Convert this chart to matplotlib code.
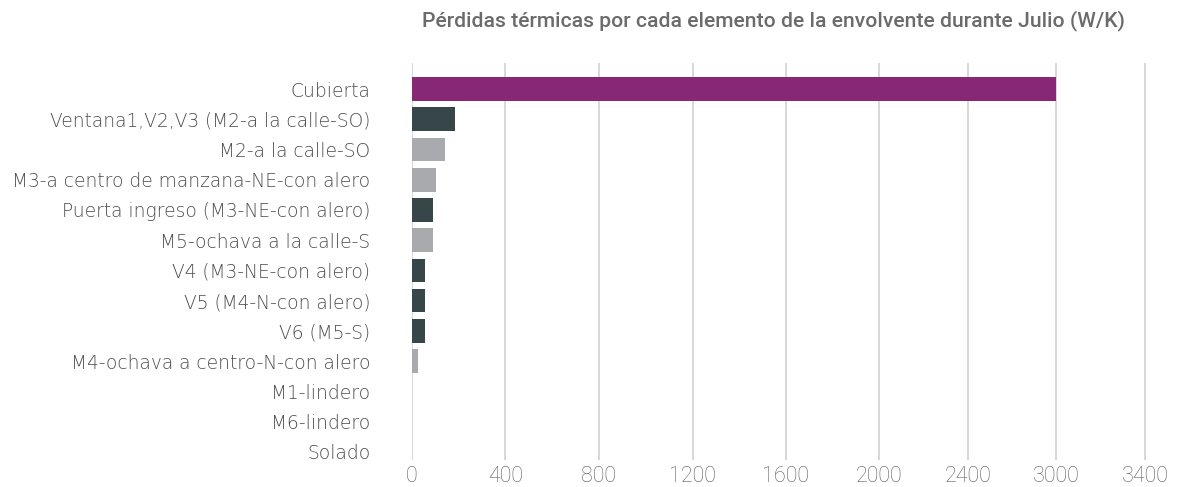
import numpy as np
import matplotlib
matplotlib.use("Agg")
import matplotlib.pyplot as plt
from matplotlib.scale import FuncScale

categories = [
    "Cubierta",
    "Ventana1,V2,V3 (M2-a la calle-SO)",
    "M2-a la calle-SO",
    "M3-a centro de manzana-NE-con alero",
    "Puerta ingreso (M3-NE-con alero)",
    "M5-ochava a la calle-S",
    "V4 (M3-NE-con alero)",
    "V5 (M4-N-con alero)",
    "V6 (M5-S)",
    "M4-ochava a centro-N-con alero",
    "M1-lindero",
    "M6-lindero",
    "Solado",
]
values = [3000, 183, 140, 102, 89, 89, 55, 55, 55, 26, 0, 0, 0]
kinds = ["roof", "window", "wall", "wall", "window", "wall", "window",
         "window", "window", "wall", "wall", "wall", "floor"]
tick_values = [0, 400, 800, 1200, 1600, 2000, 2400, 3000, 3400]
title = "Pérdidas térmicas por cada elemento de la envolvente durante Julio (W/K)"

colors = {"roof": "#862873", "window": "#374649", "wall": "#A8AAAE", "floor": "#A8AAAE"}

# axis in the reference has uneven tick spacing; mimic with a piecewise scale
scale_vals = np.array(tick_values + [4000], dtype=float)
scale_pos = np.array([0, 94, 188.3, 282.7, 376.7, 470.7, 560, 649.3, 738.7, 962.2])

def fwd(v):
    return np.interp(v, scale_vals, scale_pos)

def inv(p):
    return np.interp(p, scale_pos, scale_vals)

W, H = 1183, 487
fig = plt.figure(figsize=(W / 100, H / 100), dpi=100)
ax = fig.add_axes([412 / W, 1 - 460 / H, (1160 - 412) / W, (460 - 63) / H])
ax.set_xscale(FuncScale(ax, (fwd, inv)))

y = np.arange(len(categories))
ax.barh(y, values, height=0.78, color=[colors[k] for k in kinds], zorder=3)
ax.set_ylim(12.27, -0.86)
ax.set_xlim(0, 3440)

ax.set_xticks(tick_values)
ax.set_xticklabels([str(t) for t in tick_values])
ax.xaxis.set_minor_locator(matplotlib.ticker.NullLocator())
ax.grid(axis="x", color="#D4D4D4", linewidth=1.3, zorder=0)
ax.set_yticks(y)
ax.set_yticklabels(categories)
for lab in ax.get_yticklabels():
    lab.set_fontfamily(["DejaVu Sans"])
    lab.set_fontweight("light")
    lab.set_fontsize(13.4)
    lab.set_color("#4E4E4E")
for lab in ax.get_xticklabels():
    lab.set_fontfamily(["Roboto", "DejaVu Sans"])
    lab.set_fontweight("light")
    lab.set_fontsize(15.5)
    lab.set_color("#5C5C5C")
ax.tick_params(axis="both", length=0)
ax.tick_params(axis="y", pad=30)
ax.tick_params(axis="x", pad=4)
for s in ax.spines.values():
    s.set_visible(False)

fig.text(773.5 / W, 1 - 21 / H, title, ha="center", va="center",
         fontsize=15.2, fontweight="medium", color="#6B6B6B",
         family=["Roboto", "DejaVu Sans"])

fig.savefig("out.png", dpi=100)
